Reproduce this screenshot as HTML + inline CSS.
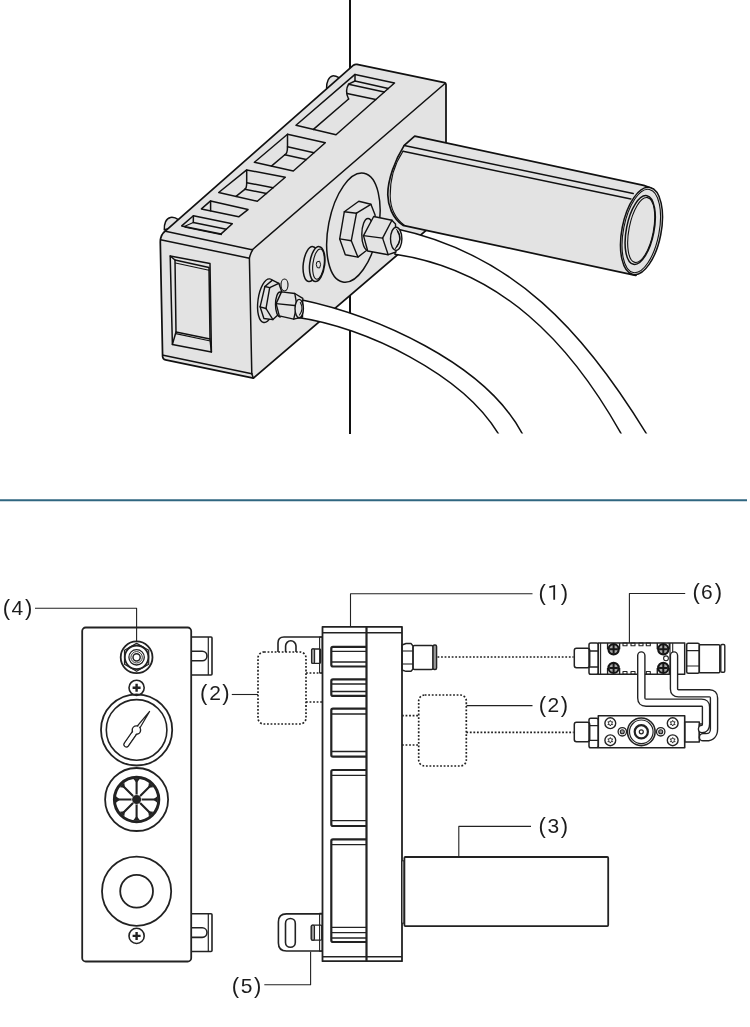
<!DOCTYPE html>
<html><head><meta charset="utf-8"><title>Diagram</title>
<style>html,body{margin:0;padding:0;background:#fff;}svg{display:block;}</style>
</head><body>
<svg width="750" height="1027" viewBox="0 0 750 1027">
<rect width="750" height="1027" fill="#fff"/>
<g stroke="#111" stroke-width="1.50" stroke-linejoin="round" stroke-linecap="round">
<line x1="350" y1="0" x2="350" y2="434" stroke-width="2" stroke-linecap="butt"/>
<path d="M326.6,88.3 C326.3,82 329,76.5 332.5,75.9 C335,75.6 337.5,76.8 339.5,77.8 L333,88 Z" fill="#e3e3e3"/>
<path d="M164.3,229.8 C164,224 166,218 170.5,217.4 C173.5,217 176.5,218.2 178.3,219.7 L172,228 Z" fill="#e3e3e3"/>
<path d="M165.5,230.8 L353.5,65.2 Q355,64 357,64.4 L444.5,82.6 Q446,83 446,84.5 L446,213.3 L253.4,378.2 L165.5,359.9 Q162.8,359.3 162.6,356.5 L160.3,242 Q160.2,235 165.5,230.8 Z" fill="#e3e3e3" stroke-width="1.75"/>
<path d="M165.5,231.2 L250.8,249.4 Q252.2,249.8 253,249.2 L445.3,83.2" fill="none"/>
<path d="M160.5,239.8 L249.4,258.2 Q250.5,253 252.6,250" fill="none"/>
<line x1="249.4" y1="258.2" x2="251.8" y2="373.8"/>
<line x1="163.3" y1="355.2" x2="251.8" y2="373.8"/>
<line x1="251.8" y1="373.8" x2="253.4" y2="378.2"/>
<polygon points="170.2,256.0 210.0,263.6 211.4,352.0 172.4,344.4" fill="none"/>
<polygon points="175.0,260.0 209.0,267.5 210.0,339.0 176.0,332.0" fill="none"/>
<line x1="172.4" y1="344.4" x2="176" y2="332"/><line x1="211.4" y1="352" x2="210" y2="339"/>
<line x1="170.2" y1="256" x2="175" y2="260"/>
<line x1="175.5" y1="263" x2="209" y2="270.3" stroke-width="1.1"/>
<line x1="175.8" y1="333.6" x2="210.4" y2="341" stroke-width="1.1"/>
<polygon points="181.7,225.9 193.4,215.8 232.3,223.8 221.1,233.9" fill="#e3e3e3"/>
<polygon points="201.4,208.9 210.6,200.9 248.0,209.6 238.7,216.8" fill="#e3e3e3"/>
<polygon points="218.7,192.5 246.7,169.9 285.3,177.3 257.3,201.3" fill="#e3e3e3"/>
<polygon points="254.4,162.3 287.5,134.3 325.3,142.7 293.3,171.0" fill="#e3e3e3"/>
<polygon points="296.0,125.3 355.0,74.4 394.5,83.0 336.0,134.7" fill="#e3e3e3"/>
<line x1="193.4" y1="215.8" x2="193.3" y2="222.4"/>
<line x1="193.3" y1="222.4" x2="226.3" y2="229.2"/>
<line x1="193.3" y1="222.4" x2="184.8" y2="226.3" stroke-width="1.10"/>
<line x1="185.0" y1="227.2" x2="221.5" y2="234.6" stroke-width="1.20"/>
<line x1="210.6" y1="200.9" x2="210.6" y2="210.8"/>
<path d="M246.7,169.9 L246.7,182.7 Q246.7,188.3 244.8,189.3" fill="none"/>
<line x1="246.7" y1="182.7" x2="273.1" y2="187.8"/>
<line x1="244.8" y1="189.3" x2="266.5" y2="193.5"/>
<line x1="244.8" y1="189.3" x2="236.0" y2="196.4"/>
<path d="M287.5,134.3 L287.5,146.8 Q287.5,153.8 284.8,154.8" fill="none"/>
<line x1="287.5" y1="146.8" x2="314.0" y2="152.7"/>
<line x1="284.8" y1="154.8" x2="306.2" y2="159.6"/>
<line x1="284.8" y1="154.8" x2="271.4" y2="166.1"/>
<line x1="355" y1="74.4" x2="355" y2="81"/>
<line x1="355.0" y1="81.0" x2="388.3" y2="88.5"/>
<path d="M355,81 L348.6,84.2 Q344.5,91 348.6,99" fill="none"/>
<line x1="348.6" y1="84.2" x2="384.2" y2="92.1"/>
<line x1="347.0" y1="93.4" x2="375.7" y2="99.6"/>
<line x1="348.6" y1="99.0" x2="313.4" y2="129.4"/>
<ellipse cx="353.4" cy="227.7" rx="25" ry="55.4" fill="none" transform="rotate(11 353.4 227.7)"/>
<ellipse cx="310.8" cy="264.1" rx="7.5" ry="17.6" fill="#e3e3e3" transform="rotate(7 310.8 264.1)"/>
<ellipse cx="317.2" cy="264.1" rx="7.5" ry="17.6" fill="#e3e3e3" transform="rotate(7 317.2 264.1)"/>
<ellipse cx="318.5" cy="264.1" rx="5.6" ry="15.2" fill="none" stroke-width="1.1" transform="rotate(7 318.5 264.1)"/>
<polygon points="317.2,261.8 319.6,261.2 320.6,264.6 319.6,268 317.2,267.6 316.4,264.8" fill="none" stroke-width="1"/>
<path d="M414.7,136.1 L643.7,185.4 L651,188 L636,275.4 L635.5,275.4 L403,225.4 C392,218 388,205 387.8,195 C387.6,180 395,160 404.2,145.4 Z" fill="#e3e3e3" stroke-width="1.7"/>
<line x1="404.2" y1="145.4" x2="633.2" y2="193.6"/>
<line x1="403.0" y1="151.3" x2="630.9" y2="198.9"/>
<path d="M403,151.3 C394,165 390,182 390.2,196 C390.4,208 395,218 404,225" fill="none" stroke-width="1.1"/>
<ellipse cx="641.5" cy="231" rx="19.6" ry="44.3" fill="#e3e3e3" transform="rotate(11 641.5 231)"/>
<ellipse cx="641.3" cy="231" rx="17.8" ry="42.3" fill="none" stroke-width="1.1" transform="rotate(11 641.3 231)"/>
<ellipse cx="640.2" cy="230" rx="13.8" ry="35" fill="#e3e3e3" transform="rotate(11 640.2 230)"/>
<ellipse cx="641.2" cy="230" rx="12.2" ry="33" fill="none" stroke-width="1.1" transform="rotate(11 641.2 230)"/>
</g>
<defs><clipPath id="tc"><rect x="0" y="0" width="750" height="433.5"/></clipPath></defs>
<g clip-path="url(#tc)" stroke="#111" stroke-width="1.5" fill="#fff">
<path d="M395.0,228.5 C514.3,253.8 584.5,332.8 645.6,432.4 L652.9,444.3 L627.3,444.6 L620.4,432.4 C570.0,343.0 501.2,270.0 395.0,254.2 Z"/>
<path d="M300.0,299.5 C375.2,315.3 484.2,362.4 522.0,433.2 L528.6,445.6 L505.2,445.2 L498.0,433.2 C462.4,374.2 365.0,327.0 298.0,317.5 Z"/>
</g>
<g stroke="#111" stroke-width="1.4" stroke-linejoin="round" stroke-linecap="round" fill="#e3e3e3">
<polygon points="344.3,211.8 358.8,201.3 370.9,204.3 375.1,215.1 374.0,246.0 365.8,251.0 357.9,257.1 345.3,254.7 339.7,238.9"/>
<line x1="344.3" y1="211.8" x2="356.5" y2="213.2"/>
<line x1="356.5" y1="213.2" x2="370.9" y2="204.3"/>
<line x1="356.5" y1="213.2" x2="351.3" y2="240.7"/>
<line x1="339.7" y1="238.9" x2="351.3" y2="240.7"/>
<line x1="351.3" y1="240.7" x2="357.9" y2="257.1"/>
<ellipse cx="368" cy="234.5" rx="6.2" ry="16" fill="#e3e3e3"/>
<polygon points="373.7,216.5 391.9,220.2 395.5,224.0 396.0,252.0 388.2,254.7 367.7,251.0 363.5,235.6"/>
<line x1="363.5" y1="235.6" x2="382.6" y2="238.1"/>
<line x1="382.6" y1="238.1" x2="391.9" y2="220.2"/>
<line x1="382.6" y1="238.1" x2="388.2" y2="254.7"/>
<ellipse cx="396.2" cy="238.8" rx="5.7" ry="11.6" fill="#e3e3e3"/>
<path d="M397.5,231.3 Q402.5,238.5 396.5,246.8" fill="none" stroke-width="1.2"/>
<path d="M396.6,229.5 Q404,238.5 395.3,248.5" fill="none" stroke-width="1.1"/>
<ellipse cx="266.8" cy="300.7" rx="8.8" ry="22" fill="#e3e3e3" transform="rotate(8 266.8 300.7)"/>
<ellipse cx="284.5" cy="285" rx="3.5" ry="6" fill="#e3e3e3" stroke-width="1.1"/>
<polygon points="264.9,286.5 272.4,280.1 278.8,283.3 281.5,291.0 281.0,313.0 279.0,314.0 272.9,319.6 263.9,318.5 260.1,306.8"/>
<line x1="264.9" y1="286.5" x2="269.7" y2="287.6"/>
<line x1="269.7" y1="287.6" x2="278.8" y2="283.3"/>
<line x1="269.7" y1="287.6" x2="266.0" y2="308.5"/>
<line x1="260.1" y1="306.8" x2="266.0" y2="308.5"/>
<line x1="266.0" y1="308.5" x2="272.9" y2="319.6"/>
<ellipse cx="280" cy="304.5" rx="4.5" ry="12.5" fill="#e3e3e3"/>
<polygon points="281.5,291.9 294.8,293.5 302.8,298.3 302.5,317.0 293.7,319.1 279.3,315.9 276.1,303.6"/>
<line x1="276.1" y1="303.6" x2="296.9" y2="305.7"/>
<line x1="296.9" y1="305.7" x2="294.8" y2="293.5"/>
<line x1="296.9" y1="305.7" x2="293.7" y2="319.1"/>
<ellipse cx="299.2" cy="308.6" rx="4.2" ry="9.2" fill="#e3e3e3"/>
<path d="M300.3,302.5 Q304,308.5 299.5,315" fill="none" stroke-width="1.1"/>
</g>
<line x1="0" y1="500.2" x2="747" y2="500.2" stroke="#2f6680" stroke-width="2.1"/>
<g stroke="#222" stroke-width="1.6" fill="none" stroke-linejoin="round">
<rect x="191" y="637.0" width="21" height="38.0" rx="1"/>
<line x1="208.3" y1="637.0" x2="208.3" y2="675.0" stroke-width="1.2"/>
<path d="M191,651.2 L202.2,651.2 A4.8,4.8 0 0 1 202.2,660.8 L191,660.8"/>
<rect x="191" y="913.7" width="21" height="37.8" rx="1"/>
<line x1="208.3" y1="913.7" x2="208.3" y2="951.5" stroke-width="1.2"/>
<path d="M191,927.8 L202.2,927.8 A4.8,4.8 0 0 1 202.2,937.4 L191,937.4"/>
<rect x="82.2" y="627.5" width="109" height="334" rx="3.5" fill="#fff" stroke-width="1.8"/>
<circle cx="136.6" cy="657.3" r="15.9" stroke-width="1.8"/>
<polygon points="136.6,671.3 124.5,664.3 124.5,650.3 136.6,643.3 148.7,650.3 148.7,664.3" stroke-width="1.2"/>
<circle cx="136.6" cy="657.3" r="11.8" stroke-width="1.8"/>
<circle cx="136.6" cy="657.3" r="7.7" stroke-width="1.3"/>
<circle cx="136.6" cy="657.3" r="5.7" stroke-width="0.9"/>
<circle cx="136.6" cy="657.3" r="3.6" stroke-width="1.5"/>
<circle cx="136.6" cy="687.8" r="7.6"/>
<path d="M132.6,687.8 h8 M136.6,683.8 v8" stroke-width="2.4"/>
<circle cx="136.6" cy="935.9" r="7.6"/>
<path d="M132.6,935.9 h8 M136.6,931.9 v8" stroke-width="2.4"/>
<circle cx="136.6" cy="729.9" r="35.6" stroke-width="1.8"/>
<circle cx="136.6" cy="729.9" r="30.3" stroke-width="1.6"/>
<path d="M128.26,745.98 L138.36,731.48 L134.44,728.72 L124.34,743.22 A2.40,2.40 0 0 0 128.26,745.98 Z" stroke-width="1.4" fill="#fff"/>
<path d="M137.96,731.19 L149.60,711.40 L134.84,729.01 Z" stroke-width="1.2" fill="#fff"/>
<circle cx="136.4" cy="730.1" r="4.2" stroke-width="1.4" fill="#fff"/>
<path d="M127.65,745.55 L137.75,731.05 L135.05,729.15 L124.95,743.65 A1.65,1.65 0 0 0 127.65,745.55 Z" fill="#fff" stroke="none"/>
<path d="M137.38,730.79 L141.00,723.55 L135.42,729.41 Z" fill="#fff" stroke="none"/>
<circle cx="136.6" cy="799.5" r="31.5" stroke-width="1.8"/>
<circle cx="136.6" cy="799.5" r="22.2" stroke-width="3"/>
<path d="M140.6,799.5 L157.6,799.5 M139.4,802.3 L151.4,814.3 M136.6,803.5 L136.6,820.5 M133.8,802.3 L121.8,814.3 M132.6,799.5 L115.6,799.5 M133.8,796.7 L121.8,784.7 M136.6,795.5 L136.6,778.5 M139.4,796.7 L151.4,784.7" stroke-width="2.1"/>
<path d="M157.3,796.2 L153.1,799.5 L157.3,802.8 Z M153.6,811.8 L148.3,811.2 L148.9,816.5 Z M139.9,820.2 L136.6,816.0 L133.3,820.2 Z M124.3,816.5 L124.9,811.2 L119.6,811.8 Z M115.9,802.8 L120.1,799.5 L115.9,796.2 Z M119.6,787.2 L124.9,787.8 L124.3,782.5 Z M133.3,778.8 L136.6,783.0 L139.9,778.8 Z M148.9,782.5 L148.3,787.8 L153.6,787.2 Z" fill="#222" stroke="none"/>
<circle cx="136.6" cy="799.5" r="5.1" fill="#fff" stroke="none"/>
<circle cx="136.6" cy="799.5" r="4.5" fill="#222" stroke="none"/>
<circle cx="136.6" cy="891.2" r="34.6" stroke-width="1.8"/>
<circle cx="136.6" cy="891.2" r="16.4" stroke-width="1.8"/>
<polyline points="35,608.3 136.6,608.3 136.6,641" stroke-width="1.1"/>
<path d="M278,652 L278,643 Q278,637 284,637 L322,637" />
<path d="M285.6,652 L285.6,646 A5.2,5.2 0 0 1 296,646 L296,652"/>
<path d="M322,913.9 L286.5,913.9 Q278.4,913.9 278.4,922 L278.4,943 Q278.4,951 286.5,951 L322,951" fill="#fff"/>
<rect x="285.5" y="918.5" width="9.8" height="28.8" rx="4.9"/>
<rect x="311.3" y="925.2" width="10.5" height="14.9" rx="1" stroke-width="1.3"/>
<rect x="311.3" y="925.2" width="3.2" height="14.9" rx="1" fill="#999" stroke-width="1.1"/>
<rect x="311.6" y="649" width="9" height="14.3" rx="1" stroke-width="1.3"/>
<rect x="311.6" y="649" width="3" height="14.3" rx="1" fill="#999" stroke-width="1.1"/>
<rect x="319.6" y="637" width="2.6" height="36" stroke-width="1.1"/>
<rect x="319.6" y="913.2" width="2.6" height="38" stroke-width="1.1"/>
<rect x="322.5" y="626.8" width="79.5" height="334.4" fill="#fff" stroke-width="1.8"/>
<line x1="322.5" y1="632.7" x2="402" y2="632.7" stroke-width="1.4"/>
<line x1="322.5" y1="956.7" x2="402" y2="956.7" stroke-width="1.4"/>
<line x1="366.5" y1="626.8" x2="366.5" y2="961.2" stroke-width="2.2"/>
<path d="M366.5,646.8 L333,646.8 Q331.3,646.8 331.3,648.5 L331.3,664.8 Q331.3,666.5 333,666.5 L366.5,666.5" stroke-width="2.2"/>
<line x1="331.3" y1="651.3" x2="366.5" y2="651.3" stroke-width="1.3"/>
<line x1="331.3" y1="662.0" x2="366.5" y2="662.0" stroke-width="1.3"/>
<path d="M366.5,679.3 L333,679.3 Q331.3,679.3 331.3,681.0 L331.3,694.2 Q331.3,695.9 333,695.9 L366.5,695.9" stroke-width="2.2"/>
<line x1="331.3" y1="684.0" x2="366.5" y2="684.0" stroke-width="1.3"/>
<line x1="331.3" y1="691.5" x2="366.5" y2="691.5" stroke-width="1.3"/>
<path d="M366.5,708.7 L333,708.7 Q331.3,708.7 331.3,710.4 L331.3,755.0 Q331.3,756.7 333,756.7 L366.5,756.7" stroke-width="2.2"/>
<line x1="331.3" y1="714.0" x2="366.5" y2="714.0" stroke-width="1.3"/>
<line x1="331.3" y1="751.5" x2="366.5" y2="751.5" stroke-width="1.3"/>
<path d="M366.5,770.0 L333,770.0 Q331.3,770.0 331.3,771.7 L331.3,824.3 Q331.3,826.0 333,826.0 L366.5,826.0" stroke-width="2.2"/>
<line x1="331.3" y1="775.3" x2="366.5" y2="775.3" stroke-width="1.3"/>
<line x1="331.3" y1="820.7" x2="366.5" y2="820.7" stroke-width="1.3"/>
<path d="M366.5,839.3 L333,839.3 Q331.3,839.3 331.3,841.0 L331.3,940.3 Q331.3,942.0 333,942.0 L366.5,942.0" stroke-width="2.2"/>
<line x1="331.3" y1="844.7" x2="366.5" y2="844.7" stroke-width="1.3"/>
<line x1="331.3" y1="927.3" x2="366.5" y2="927.3" stroke-width="1.3"/>
<line x1="331.3" y1="932.7" x2="366.5" y2="932.7" stroke-width="1.3"/>
<line x1="331.3" y1="938.0" x2="366.5" y2="938.0" stroke-width="1.3"/>
<path d="M402,645 L406,643.5 L411,643.5 L413,646 L413,669 L411,671.3 L406,671.3 L402,670 Z" stroke-width="1.4"/>
<line x1="402" y1="651" x2="413" y2="651" stroke-width="1.1"/><line x1="402" y1="664" x2="413" y2="664" stroke-width="1.1"/>
<rect x="413" y="645.5" width="20" height="24" rx="1.5" stroke-width="1.4"/>
<rect x="433" y="645" width="3.6" height="24.5" rx="1.5" fill="#999" stroke-width="1.4"/>
<rect x="401.5" y="860.8" width="3.2" height="62.4" fill="#8a8a8a" stroke-width="1"/>
<rect x="404.4" y="857" width="203.8" height="69.1" rx="1" fill="#fff" stroke-width="1.8"/>
<g stroke-dasharray="1.8 1.75" stroke-width="1.7">
<rect x="258" y="652" width="48" height="72" rx="6" fill="#fff"/>
<line x1="306" y1="673" x2="322" y2="673"/><line x1="306" y1="702" x2="322" y2="702"/>
<rect x="418.7" y="695" width="47.6" height="71" rx="6" fill="#fff"/>
<line x1="402" y1="715.6" x2="418.7" y2="715.6"/><line x1="402" y1="745" x2="418.7" y2="745"/>
<line x1="437.5" y1="657" x2="573.6" y2="657"/>
<line x1="466.3" y1="732.4" x2="573.6" y2="732.4"/>
</g>
<g stroke-width="1.1">
<line x1="231.8" y1="694.5" x2="258" y2="694.5"/>
<polyline points="350.5,626.8 350.5,593.7 532.5,593.7"/>
<line x1="466.5" y1="705.6" x2="532.5" y2="705.6"/>
<polyline points="685.2,593.5 629.4,593.5 629.4,643"/>
<polyline points="531,826.4 458.8,826.4 458.8,857"/>
<polyline points="264.3,984.8 310.6,984.8 310.6,951.7"/>
</g>
<rect x="574.3" y="648.3" width="15.4" height="19.4" rx="2.2" stroke-width="1.5"/>
<rect x="589" y="643" width="9.3" height="31.3" rx="1.8" stroke-width="1.5"/>
<path d="M589,651 H598.3 M589,667 H598.3" stroke-width="1.3"/>
<rect x="598.3" y="643" width="86.4" height="31.3" stroke-width="1.5"/>
<path d="M600.6,643 V674.3 M670,643 V674.3 M672.7,643 V674.3" stroke-width="1.1"/>
<rect x="623.0" y="643" width="4" height="2.8" stroke-width="1.1"/>
<rect x="631.0" y="643" width="4" height="2.8" stroke-width="1.1"/>
<rect x="639.0" y="643" width="4" height="2.8" stroke-width="1.1"/>
<rect x="646.3" y="643" width="4" height="2.8" stroke-width="1.1"/>
<rect x="623.0" y="671.5" width="4" height="2.8" stroke-width="1.1"/>
<rect x="631.0" y="671.5" width="4" height="2.8" stroke-width="1.1"/>
<rect x="646.3" y="671.5" width="4" height="2.8" stroke-width="1.1"/>
<path d="M607.6,649.3 V643.0 M619.6,649.3 V643.0" stroke-width="1.4"/>
<circle cx="613.6" cy="649.3" r="5.1" fill="#a8a8a8" stroke="#151515" stroke-width="2.2"/>
<path d="M609.4,649.3 h8.4 M613.6,645.1 v8.4" stroke="#151515" stroke-width="2"/>
<path d="M607.6,667.9 V674.3 M619.6,667.9 V674.3" stroke-width="1.4"/>
<circle cx="613.6" cy="667.9" r="5.1" fill="#a8a8a8" stroke="#151515" stroke-width="2.2"/>
<path d="M609.4,667.9 h8.4 M613.6,663.7 v8.4" stroke="#151515" stroke-width="2"/>
<path d="M657.3,649.3 V643.0 M669.3,649.3 V643.0" stroke-width="1.4"/>
<circle cx="663.3" cy="649.3" r="5.1" fill="#a8a8a8" stroke="#151515" stroke-width="2.2"/>
<path d="M659.1,649.3 h8.4 M663.3,645.1 v8.4" stroke="#151515" stroke-width="2"/>
<path d="M657.3,667.9 V674.3 M669.3,667.9 V674.3" stroke-width="1.4"/>
<circle cx="663.3" cy="667.9" r="5.1" fill="#a8a8a8" stroke="#151515" stroke-width="2.2"/>
<path d="M659.1,667.9 h8.4 M663.3,663.7 v8.4" stroke="#151515" stroke-width="2"/>
<circle cx="666" cy="658.3" r="2.4" stroke-width="1.1"/>
<rect x="686.7" y="643.3" width="12.6" height="30" rx="1.5" stroke-width="1.5"/>
<path d="M686.7,650.7 H699.3 M686.7,666 H699.3" stroke-width="1.2"/>
<rect x="699.3" y="644.7" width="20.5" height="28" rx="1" stroke-width="1.5"/>
<rect x="720.8" y="644.5" width="4" height="27.8" rx="1.2" stroke-width="1.4"/>
<rect x="574.3" y="722.3" width="15.4" height="19.4" rx="2.2" stroke-width="1.5"/>
<rect x="589" y="718.3" width="9.3" height="29.4" rx="1.8" stroke-width="1.5"/>
<path d="M589,725.7 H598.3 M589,740.3 H598.3" stroke-width="1.3"/>
<rect x="598.3" y="715.7" width="86.4" height="32" fill="#fff" stroke-width="1.6"/>
<rect x="684.7" y="722" width="14.6" height="20" stroke-width="1.5"/>
<rect x="699.3" y="724" width="4" height="15.3" rx="1" stroke-width="1.3"/>
<circle cx="610.3" cy="723.2" r="5.4" stroke-width="1.4"/>
<polygon points="610.3,720.4 611.0,721.9 612.7,721.8 611.8,723.2 612.7,724.6 611.0,724.5 610.3,726.0 609.5,724.5 607.9,724.6 608.8,723.2 607.9,721.8 609.5,721.9" stroke-width="0.9"/>
<circle cx="610.3" cy="740.3" r="5.4" stroke-width="1.4"/>
<polygon points="610.3,737.5 611.0,739.0 612.7,738.9 611.8,740.3 612.7,741.7 611.0,741.6 610.3,743.1 609.5,741.6 607.9,741.7 608.8,740.3 607.9,738.9 609.5,739.0" stroke-width="0.9"/>
<circle cx="672.7" cy="723.2" r="5.4" stroke-width="1.4"/>
<polygon points="672.7,720.4 673.5,721.9 675.1,721.8 674.2,723.2 675.1,724.6 673.5,724.5 672.7,726.0 672.0,724.5 670.3,724.6 671.2,723.2 670.3,721.8 672.0,721.9" stroke-width="0.9"/>
<circle cx="672.7" cy="740.3" r="5.4" stroke-width="1.4"/>
<polygon points="672.7,737.5 673.5,739.0 675.1,738.9 674.2,740.3 675.1,741.7 673.5,741.6 672.7,743.1 672.0,741.6 670.3,741.7 671.2,740.3 670.3,738.9 672.0,739.0" stroke-width="0.9"/>
<circle cx="622.3" cy="731.8" r="4.2" stroke-width="1.3"/>
<circle cx="622.3" cy="731.8" r="2" fill="#999" stroke-width="1.1"/>
<circle cx="660.7" cy="731.8" r="4.2" stroke-width="1.3"/>
<circle cx="660.7" cy="731.8" r="2" fill="#999" stroke-width="1.1"/>
<circle cx="641.3" cy="731.8" r="13.8" stroke-width="1.6"/>
<circle cx="641.3" cy="731.8" r="11.8" stroke-width="1.2"/>
<circle cx="641.3" cy="731.8" r="6.6" stroke-width="2.2"/>
<circle cx="641.3" cy="731.8" r="2" stroke-width="1.2"/>
<path d="M674,655.5 V689 Q674,693.3 678.5,693.3 H709.5 Q714,693.3 714,698 V729 Q714,737.2 706,737.2 H703" stroke-width="8.6" stroke-linecap="round"/>
<path d="M674,655.5 V689 Q674,693.3 678.5,693.3 H709.5 Q714,693.3 714,698 V729 Q714,737.2 706,737.2 H703" stroke-width="5.8" stroke="#fff" stroke-linecap="round"/>
<path d="M641.3,655.5 V698 Q641.3,702.7 646,702.7 H701.5 Q706,702.7 706,707 V724 Q706,729 702,729" stroke-width="8.6" stroke-linecap="round"/>
<path d="M641.3,655.5 V698 Q641.3,702.7 646,702.7 H701.5 Q706,702.7 706,707 V724 Q706,729 702,729" stroke-width="5.8" stroke="#fff" stroke-linecap="round"/>
</g>
<g style="font-family:'Liberation Sans',sans-serif;filter:grayscale(1)" fill="#1c1c1c">
<text x="2.64" y="615.0" font-size="22">(</text>
<text x="24.94" y="615.0" font-size="22">)</text>
<text x="11.58" y="615.0" font-size="21">4</text>
<text x="200.04" y="699.8" font-size="22">(</text>
<text x="222.34" y="699.8" font-size="22">)</text>
<text x="209.16" y="699.8" font-size="21">2</text>
<text x="538.54" y="599.8" font-size="22">(</text>
<text x="560.84" y="599.8" font-size="22">)</text>
<path d="M549.2,586.3 L555.1,584.9 L555.1,599.8 L553.3,599.8 L553.3,587.1 L549.4,587.9 Z"/>
<text x="692.44" y="599.3" font-size="22">(</text>
<text x="714.74" y="599.3" font-size="22">)</text>
<text x="700.99" y="599.3" font-size="21">6</text>
<text x="538.74" y="711.5" font-size="22">(</text>
<text x="560.84" y="711.5" font-size="22">)</text>
<text x="547.51" y="711.5" font-size="21">2</text>
<text x="538.54" y="832.5" font-size="22">(</text>
<text x="560.84" y="832.5" font-size="22">)</text>
<text x="547.58" y="832.5" font-size="21">3</text>
<text x="231.64" y="993.0" font-size="22">(</text>
<text x="253.94" y="993.0" font-size="22">)</text>
<text x="240.78" y="993.0" font-size="21">5</text>
</g>
</svg>
</body></html>
